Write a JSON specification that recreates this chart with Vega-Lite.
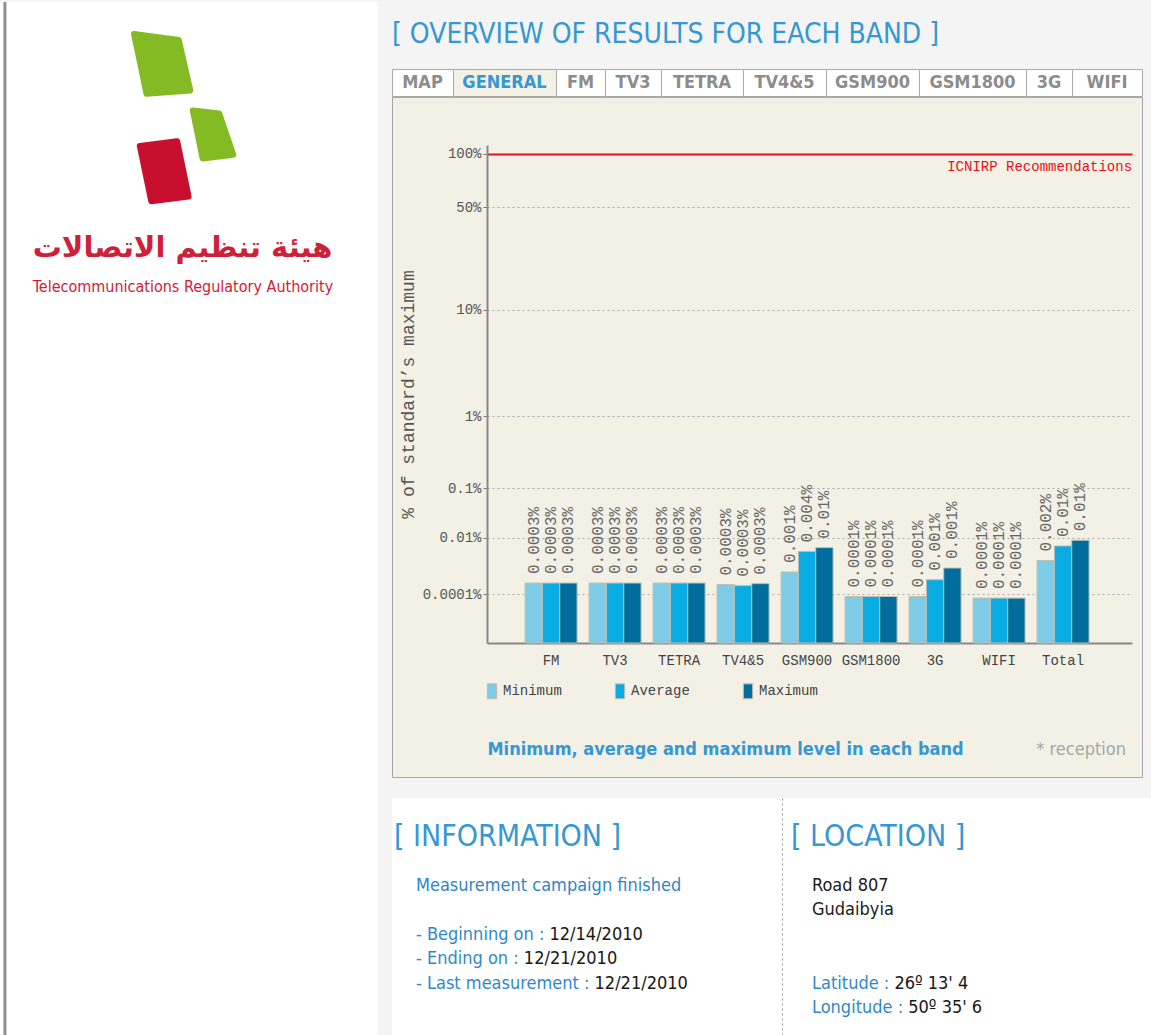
{
  "$schema": "https://vega.github.io/schema/vega-lite/v6.json",
  "padding": 0,
  "background": "#f4f4f4",
  "autosize": {"type": "pad"},
  "config": {"view": {"stroke": null}, "concat": {"spacing": 0}},
  "datasets": {
    "bands": [
      {"band": "FM", "stat": "Minimum", "value": 0.00034, "label": "0.0003%"},
      {"band": "FM", "stat": "Average", "value": 0.00034, "label": "0.0003%"},
      {"band": "FM", "stat": "Maximum", "value": 0.00034, "label": "0.0003%"},
      {"band": "TV3", "stat": "Minimum", "value": 0.00034, "label": "0.0003%"},
      {"band": "TV3", "stat": "Average", "value": 0.00034, "label": "0.0003%"},
      {"band": "TV3", "stat": "Maximum", "value": 0.00034, "label": "0.0003%"},
      {"band": "TETRA", "stat": "Minimum", "value": 0.00034, "label": "0.0003%"},
      {"band": "TETRA", "stat": "Average", "value": 0.00034, "label": "0.0003%"},
      {"band": "TETRA", "stat": "Maximum", "value": 0.00034, "label": "0.0003%"},
      {"band": "TV4&5", "stat": "Minimum", "value": 0.00029, "label": "0.0003%"},
      {"band": "TV4&5", "stat": "Average", "value": 0.00026, "label": "0.0003%"},
      {"band": "TV4&5", "stat": "Maximum", "value": 0.00032, "label": "0.0003%"},
      {"band": "GSM900", "stat": "Minimum", "value": 0.00094, "label": "0.001%"},
      {"band": "GSM900", "stat": "Average", "value": 0.0043, "label": "0.004%"},
      {"band": "GSM900", "stat": "Maximum", "value": 0.0055, "label": "0.01%"},
      {"band": "GSM1800", "stat": "Minimum", "value": 0.000074, "label": "0.0001%"},
      {"band": "GSM1800", "stat": "Average", "value": 0.000074, "label": "0.0001%"},
      {"band": "GSM1800", "stat": "Maximum", "value": 0.000074, "label": "0.0001%"},
      {"band": "3G", "stat": "Minimum", "value": 0.000074, "label": "0.0001%"},
      {"band": "3G", "stat": "Average", "value": 0.00047, "label": "0.001%"},
      {"band": "3G", "stat": "Maximum", "value": 0.0013, "label": "0.001%"},
      {"band": "WIFI", "stat": "Minimum", "value": 0.00006, "label": "0.0001%"},
      {"band": "WIFI", "stat": "Average", "value": 0.00006, "label": "0.0001%"},
      {"band": "WIFI", "stat": "Maximum", "value": 0.00006, "label": "0.0001%"},
      {"band": "Total", "stat": "Minimum", "value": 0.0023, "label": "0.002%"},
      {"band": "Total", "stat": "Average", "value": 0.0061, "label": "0.01%"},
      {"band": "Total", "stat": "Maximum", "value": 0.0086, "label": "0.01%"}
    ],
    "info": [
      {"line": 2, "kind": "header", "text": "[ INFORMATION ]"},
      {"line": 4, "kind": "body", "text": "Measurement campaign finished"},
      {"line": 6, "kind": "body", "text": "- Beginning on : 12/14/2010"},
      {"line": 7, "kind": "body", "text": "- Ending on : 12/21/2010"},
      {"line": 8, "kind": "body", "text": "- Last measurement : 12/21/2010"}
    ],
    "location": [
      {"line": 2, "kind": "header", "text": "[ LOCATION ]"},
      {"line": 4, "kind": "body", "text": "Road 807"},
      {"line": 5, "kind": "body", "text": "Gudaibyia"},
      {"line": 8, "kind": "body", "text": "Latitude : 26º 13' 4"},
      {"line": 9, "kind": "body", "text": "Longitude : 50º 35' 6"}
    ]
  },
  "hconcat": [
    {
      "width": 378,
      "height": 1035,
      "view": {"fill": "#ffffff", "stroke": null},
      "data": {"values": [{}]},
      "layer": [
        {
          "mark": {"type": "rule", "color": "#8f8f8f", "strokeWidth": 3},
          "encoding": {"x": {"datum": 1.3, "type": "quantitative", "scale": {"domain": [0, 100], "nice": false, "zero": false}, "axis": null}}
        },
        {
          "mark": {"type": "point", "shape": "M-0.93,-1.01L0.54,-0.81L0.92,0.85L-0.52,0.96Z", "filled": true, "opacity": 1, "fill": "#84bb24", "stroke": "#84bb24", "strokeWidth": 6, "strokeJoin": "round", "size": 3700},
          "encoding": {
            "x": {"datum": 42.94, "type": "quantitative", "scale": {"domain": [0, 100], "nice": false, "zero": false}, "axis": null},
            "y": {"datum": 6.05, "type": "quantitative", "scale": {"domain": [0, 100], "reverse": true, "nice": false, "zero": false}, "axis": null}
          }
        },
        {
          "mark": {"type": "point", "shape": "M-0.82,-1.02L0.31,-0.89L0.91,0.87L-0.4,1.03Z", "filled": true, "opacity": 1, "fill": "#84bb24", "stroke": "#84bb24", "strokeWidth": 6, "strokeJoin": "round", "size": 2190},
          "encoding": {
            "x": {"datum": 56.08, "type": "quantitative"},
            "y": {"datum": 12.79, "type": "quantitative"}
          }
        },
        {
          "mark": {"type": "point", "shape": "M-0.83,-0.86L0.44,-1.02L0.83,0.86L-0.44,1.02Z", "filled": true, "opacity": 1, "fill": "#c8102e", "stroke": "#c8102e", "strokeWidth": 6, "strokeJoin": "round", "size": 3460},
          "encoding": {
            "x": {"datum": 43.44, "type": "quantitative"},
            "y": {"datum": 16.35, "type": "quantitative"}
          }
        },
        {
          "mark": {"type": "text", "text": "هيئة تنظيم الاتصالات", "font": "DejaVu Sans", "fontSize": 29, "fontWeight": "bold", "color": "#cf2039", "align": "center", "baseline": "middle"},
          "encoding": {"x": {"datum": 48.3, "type": "quantitative"}, "y": {"datum": 23.8, "type": "quantitative"}}
        },
        {
          "mark": {"type": "text", "text": "Telecommunications Regulatory Authority", "font": "Liberation Sans Narrow, DejaVu Sans Condensed, sans-serif", "fontSize": 16, "color": "#cf2039", "align": "center", "baseline": "middle"},
          "encoding": {"x": {"datum": 48.4, "type": "quantitative"}, "y": {"datum": 27.54, "type": "quantitative"}}
        }
      ]
    },
    {
      "spacing": 20,
      "bounds": "full",
      "vconcat": [
        {
          "spacing": -2,
          "bounds": "full",
          "vconcat": [
            {
              "width": 750,
              "height": 67,
              "view": {"fill": "#f4f4f4", "stroke": null},
              "title": {"text": "[ OVERVIEW OF RESULTS FOR EACH BAND ]", "anchor": "start", "orient": "bottom", "baseline": "bottom", "offset": -20, "font": "Liberation Sans Narrow, DejaVu Sans Condensed, sans-serif", "fontSize": 28, "fontWeight": "normal", "color": "#3597d3", "frame": "group"},
              "data": {"values": [{}]},
              "mark": {"type": "text", "text": " "}
            },
            {
              "spacing": 0,
              "bounds": "flush",
              "hconcat": [
                {"width": 61, "height": 27, "view": {"fill": "#ffffff", "stroke": "#a9a9a9"}, "data": {"values": [{"tab": "MAP"}]}, "mark": {"type": "text", "font": "Liberation Sans Narrow, DejaVu Sans Condensed, sans-serif", "fontSize": 18, "fontWeight": "bold", "color": "#8c8c8c"}, "encoding": {"text": {"field": "tab"}}},
                {"width": 103, "height": 27, "view": {"fill": "#f3f1e5", "stroke": "#a9a9a9"}, "data": {"values": [{"tab": "GENERAL"}]}, "mark": {"type": "text", "font": "Liberation Sans Narrow, DejaVu Sans Condensed, sans-serif", "fontSize": 18, "fontWeight": "bold", "color": "#3597d3"}, "encoding": {"text": {"field": "tab"}}},
                {"width": 49, "height": 27, "view": {"fill": "#ffffff", "stroke": "#a9a9a9"}, "data": {"values": [{"tab": "FM"}]}, "mark": {"type": "text", "font": "Liberation Sans Narrow, DejaVu Sans Condensed, sans-serif", "fontSize": 18, "fontWeight": "bold", "color": "#8c8c8c"}, "encoding": {"text": {"field": "tab"}}},
                {"width": 56, "height": 27, "view": {"fill": "#ffffff", "stroke": "#a9a9a9"}, "data": {"values": [{"tab": "TV3"}]}, "mark": {"type": "text", "font": "Liberation Sans Narrow, DejaVu Sans Condensed, sans-serif", "fontSize": 18, "fontWeight": "bold", "color": "#8c8c8c"}, "encoding": {"text": {"field": "tab"}}},
                {"width": 82, "height": 27, "view": {"fill": "#ffffff", "stroke": "#a9a9a9"}, "data": {"values": [{"tab": "TETRA"}]}, "mark": {"type": "text", "font": "Liberation Sans Narrow, DejaVu Sans Condensed, sans-serif", "fontSize": 18, "fontWeight": "bold", "color": "#8c8c8c"}, "encoding": {"text": {"field": "tab"}}},
                {"width": 83, "height": 27, "view": {"fill": "#ffffff", "stroke": "#a9a9a9"}, "data": {"values": [{"tab": "TV4&5"}]}, "mark": {"type": "text", "font": "Liberation Sans Narrow, DejaVu Sans Condensed, sans-serif", "fontSize": 18, "fontWeight": "bold", "color": "#8c8c8c"}, "encoding": {"text": {"field": "tab"}}},
                {"width": 93, "height": 27, "view": {"fill": "#ffffff", "stroke": "#a9a9a9"}, "data": {"values": [{"tab": "GSM900"}]}, "mark": {"type": "text", "font": "Liberation Sans Narrow, DejaVu Sans Condensed, sans-serif", "fontSize": 18, "fontWeight": "bold", "color": "#8c8c8c"}, "encoding": {"text": {"field": "tab"}}},
                {"width": 107, "height": 27, "view": {"fill": "#ffffff", "stroke": "#a9a9a9"}, "data": {"values": [{"tab": "GSM1800"}]}, "mark": {"type": "text", "font": "Liberation Sans Narrow, DejaVu Sans Condensed, sans-serif", "fontSize": 18, "fontWeight": "bold", "color": "#8c8c8c"}, "encoding": {"text": {"field": "tab"}}},
                {"width": 46, "height": 27, "view": {"fill": "#ffffff", "stroke": "#a9a9a9"}, "data": {"values": [{"tab": "3G"}]}, "mark": {"type": "text", "font": "Liberation Sans Narrow, DejaVu Sans Condensed, sans-serif", "fontSize": 18, "fontWeight": "bold", "color": "#8c8c8c"}, "encoding": {"text": {"field": "tab"}}},
                {"width": 70, "height": 27, "view": {"fill": "#ffffff", "stroke": "#a9a9a9"}, "data": {"values": [{"tab": "WIFI"}]}, "mark": {"type": "text", "font": "Liberation Sans Narrow, DejaVu Sans Condensed, sans-serif", "fontSize": 18, "fontWeight": "bold", "color": "#8c8c8c"}, "encoding": {"text": {"field": "tab"}}}
              ]
            },
            {
              "width": 750,
              "height": 680,
              "view": {"fill": "#f3f1e5", "stroke": "#a6a6a6", "strokeWidth": 1},
              "title": {"text": "* reception", "orient": "bottom", "anchor": "end", "offset": -36, "dx": -16, "font": "Liberation Sans Narrow, DejaVu Sans Condensed, sans-serif", "fontSize": 18, "fontWeight": "normal", "color": "#a6a6a6"},
              "data": {"name": "bands"},
              "layer": [
                {
                  "mark": {"type": "bar", "stroke": "#c4beb0", "strokeWidth": 1},
                  "encoding": {
                    "x": {
                      "field": "band", "type": "nominal", "sort": null,
                      "scale": {"range": [95, 740], "paddingInner": 0.1875, "paddingOuter": 0.633, "align": 0.47},
                      "axis": {
                        "orient": "bottom", "offset": -134, "domainColor": "#888888", "domainWidth": 2, "ticks": false,
                        "labelPadding": 10, "labelFont": "Liberation Mono", "labelFontSize": 14, "labelColor": "#444444", "labelAngle": 0,
                        "grid": false,
                        "title": "Minimum, average and maximum level in each band",
                        "titleAnchor": "start", "titleAlign": "left", "titleBaseline": "top", "titlePadding": 73,
                        "titleFont": "Liberation Sans Narrow, DejaVu Sans Condensed, sans-serif", "titleFontSize": 18, "titleFontWeight": "bold", "titleColor": "#3597d3"
                      }
                    },
                    "xOffset": {"field": "stat", "type": "nominal", "sort": ["Minimum", "Average", "Maximum"], "scale": {"domain": ["Minimum", "Average", "Maximum"], "paddingInner": 0, "paddingOuter": 0}},
                    "y": {
                      "field": "value", "type": "quantitative",
                      "scale": {"type": "pow", "exponent": 0.16667, "domain": [0, 111.5], "range": [546, 48], "nice": false},
                      "axis": {
                        "orient": "left", "offset": -95,
                        "values": [0.0001, 0.01, 0.1, 1, 10, 50, 100],
                        "labelExpr": "datum.value + '%'",
                        "labelFont": "Liberation Mono", "labelFontSize": 14, "labelColor": "#555555", "labelPadding": 2,
                        "labelFlush": false, "labelOverlap": false,
                        "tickColor": "#777777", "tickSize": 4,
                        "domainColor": "#888888", "domainWidth": 2,
                        "grid": true,
                        "gridColor": {"condition": {"test": "datum.value === 100", "value": "#e8101b"}, "value": "#a8a8a8"},
                        "gridDash": {"condition": {"test": "datum.value === 100", "value": []}, "value": [2, 3]},
                        "gridWidth": {"condition": {"test": "datum.value === 100", "value": 2}, "value": 1},
                        "title": "% of standard’s maximum",
                        "titleFont": "Liberation Mono", "titleFontSize": 18, "titleFontWeight": "normal", "titleColor": "#555555", "titlePadding": 5
                      }
                    },
                    "color": {
                      "field": "stat", "type": "nominal",
                      "scale": {"domain": ["Minimum", "Average", "Maximum"], "range": ["#7ccbe7", "#0aaae3", "#006e9d"]},
                      "legend": {
                        "orient": "none", "legendX": 484, "legendY": 681, "direction": "horizontal", "title": null,
                        "symbolType": "M-0.62,-1H0.62V1H-0.62Z", "symbolSize": 220, "symbolStrokeColor": "#c0b9aa", "symbolStrokeWidth": 1,
                        "labelFont": "Liberation Mono", "labelFontSize": 14, "labelColor": "#444444", "labelOffset": 3,
                        "columnPadding": 50, "gridAlign": "all"
                      }
                    }
                  }
                },
                {
                  "mark": {"type": "text", "angle": -90, "align": "left", "baseline": "middle", "dx": 9, "font": "Liberation Mono", "fontSize": 16, "color": "#666666"},
                  "encoding": {
                    "x": {"field": "band", "type": "nominal", "sort": null},
                    "xOffset": {"field": "stat", "type": "nominal", "sort": ["Minimum", "Average", "Maximum"]},
                    "y": {"field": "value", "type": "quantitative"},
                    "text": {"field": "label"}
                  }
                },
                {
                  "data": {"values": [{}]},
                  "mark": {"type": "text", "text": "ICNIRP Recommendations", "align": "right", "baseline": "middle", "dx": 43, "dy": 13, "font": "Liberation Mono", "fontSize": 14, "color": "#e8101b"},
                  "encoding": {
                    "x": {"datum": "Total", "type": "nominal", "bandPosition": 1},
                    "y": {"datum": 100, "type": "quantitative"}
                  }
                }
              ]
            }
          ]
        },
        {
          "spacing": 0,
          "bounds": "flush",
          "hconcat": [
            {
              "width": 390,
              "height": 240,
              "view": {"fill": "#ffffff", "stroke": null},
              "data": {"name": "info"},
              "encoding": {
                "y": {"field": "line", "type": "quantitative", "scale": {"domain": [0.41, 10.21], "reverse": true, "nice": false, "zero": false}, "axis": null},
                "x": {"field": "kind", "type": "nominal", "scale": {"type": "point", "domain": ["header", "body"], "range": [2, 24], "padding": 0}, "axis": null},
                "text": {"field": "text"}
              },
              "layer": [
                {
                  "transform": [{"filter": "datum.kind === 'header'"}],
                  "mark": {"type": "text", "align": "left", "baseline": "middle", "font": "Liberation Sans Narrow, DejaVu Sans Condensed, sans-serif", "fontSize": 30, "fill": "#3597d3"}
                },
                {
                  "transform": [{"filter": "datum.line === 4"}],
                  "mark": {"type": "text", "align": "left", "baseline": "middle", "font": "Liberation Sans Narrow, DejaVu Sans Condensed, sans-serif", "fontSize": 18, "fill": "#2f86c6"}
                },
                {
                  "transform": [{"filter": "datum.line === 6"}],
                  "mark": {"type": "text", "align": "left", "baseline": "middle", "font": "Liberation Sans Narrow, DejaVu Sans Condensed, sans-serif", "fontSize": 18,
                    "fill": {"gradient": "linear", "x1": 0, "x2": 1, "y1": 0, "y2": 0, "stops": [{"offset": 0, "color": "#2f86c6"}, {"offset": 0.573, "color": "#2f86c6"}, {"offset": 0.574, "color": "#1a1a1a"}, {"offset": 1, "color": "#1a1a1a"}]}}
                },
                {
                  "transform": [{"filter": "datum.line === 7"}],
                  "mark": {"type": "text", "align": "left", "baseline": "middle", "font": "Liberation Sans Narrow, DejaVu Sans Condensed, sans-serif", "fontSize": 18,
                    "fill": {"gradient": "linear", "x1": 0, "x2": 1, "y1": 0, "y2": 0, "stops": [{"offset": 0, "color": "#2f86c6"}, {"offset": 0.517, "color": "#2f86c6"}, {"offset": 0.518, "color": "#1a1a1a"}, {"offset": 1, "color": "#1a1a1a"}]}}
                },
                {
                  "transform": [{"filter": "datum.line === 8"}],
                  "mark": {"type": "text", "align": "left", "baseline": "middle", "font": "Liberation Sans Narrow, DejaVu Sans Condensed, sans-serif", "fontSize": 18,
                    "fill": {"gradient": "linear", "x1": 0, "x2": 1, "y1": 0, "y2": 0, "stops": [{"offset": 0, "color": "#2f86c6"}, {"offset": 0.647, "color": "#2f86c6"}, {"offset": 0.648, "color": "#1a1a1a"}, {"offset": 1, "color": "#1a1a1a"}]}}
                }
              ]
            },
            {
              "width": 370,
              "height": 240,
              "view": {"fill": "#ffffff", "stroke": null},
              "data": {"name": "location"},
              "encoding": {
                "y": {
                  "field": "line", "type": "quantitative", "scale": {"domain": [0.41, 10.21], "reverse": true, "nice": false, "zero": false},
                  "axis": {"orient": "left", "domain": true, "domainColor": "#9a9a9a", "domainDash": [2, 3], "domainWidth": 1, "labels": false, "ticks": false, "grid": false, "title": null}
                },
                "x": {"field": "kind", "type": "nominal", "scale": {"type": "point", "domain": ["header", "body"], "range": [9, 30], "padding": 0}, "axis": null},
                "text": {"field": "text"}
              },
              "layer": [
                {
                  "transform": [{"filter": "datum.kind === 'header'"}],
                  "mark": {"type": "text", "align": "left", "baseline": "middle", "font": "Liberation Sans Narrow, DejaVu Sans Condensed, sans-serif", "fontSize": 30, "fill": "#3597d3"}
                },
                {
                  "transform": [{"filter": "datum.line === 4 || datum.line === 5"}],
                  "mark": {"type": "text", "align": "left", "baseline": "middle", "font": "Liberation Sans Narrow, DejaVu Sans Condensed, sans-serif", "fontSize": 18, "fill": "#1a1a1a"}
                },
                {
                  "transform": [{"filter": "datum.line === 8"}],
                  "mark": {"type": "text", "align": "left", "baseline": "middle", "font": "Liberation Sans Narrow, DejaVu Sans Condensed, sans-serif", "fontSize": 18,
                    "fill": {"gradient": "linear", "x1": 0, "x2": 1, "y1": 0, "y2": 0, "stops": [{"offset": 0, "color": "#2f86c6"}, {"offset": 0.506, "color": "#2f86c6"}, {"offset": 0.507, "color": "#1a1a1a"}, {"offset": 1, "color": "#1a1a1a"}]}}
                },
                {
                  "transform": [{"filter": "datum.line === 9"}],
                  "mark": {"type": "text", "align": "left", "baseline": "middle", "font": "Liberation Sans Narrow, DejaVu Sans Condensed, sans-serif", "fontSize": 18,
                    "fill": {"gradient": "linear", "x1": 0, "x2": 1, "y1": 0, "y2": 0, "stops": [{"offset": 0, "color": "#2f86c6"}, {"offset": 0.559, "color": "#2f86c6"}, {"offset": 0.56, "color": "#1a1a1a"}, {"offset": 1, "color": "#1a1a1a"}]}}
                }
              ]
            }
          ]
        }
      ]
    }
  ],
  "spacing": 13,
  "bounds": "full"
}
